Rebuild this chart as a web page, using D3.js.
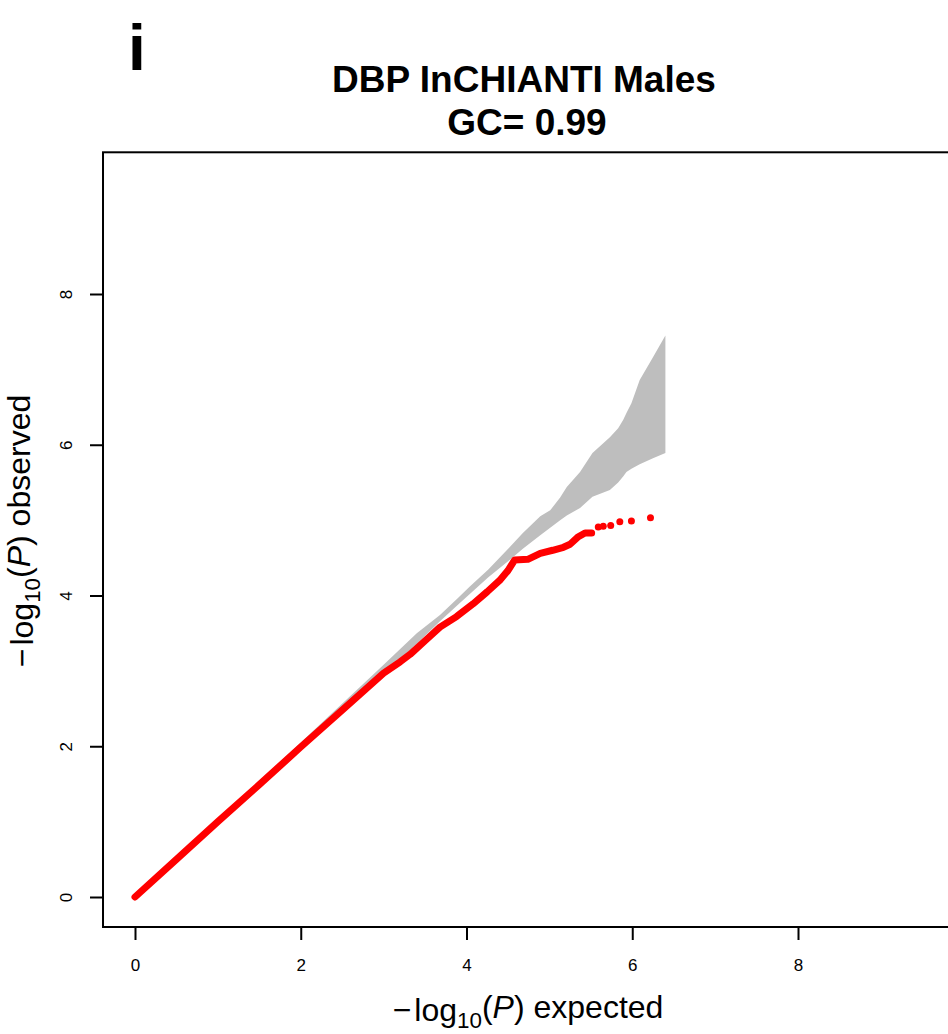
<!DOCTYPE html>
<html>
<head>
<meta charset="utf-8">
<script src="https://cdn.jsdelivr.net/npm/d3@7"></script>
<style>
  html, body { margin: 0; padding: 0; background: #fff; }
  svg { display: block; font-family: "Liberation Sans", Arial, sans-serif; }
</style>
</head>
<body>
<svg id="chart" width="948" height="1034"></svg>
<script>
// ---- data ----
const panelLetter = "i";
const titleLines = ["DBP InCHIANTI Males", "GC= 0.99"];
const xTicks = [0, 2, 4, 6, 8];
const yTicks = [0, 2, 4, 6, 8];
const xLimits = [-0.386, 10.04];
const yLimits = [-0.398, 9.88];

// confidence band: expected, lower, upper
const ciExpected = [0, 1, 2, 3, 3.4, 3.68, 3.9, 4.04, 4.26, 4.52, 4.68, 4.89, 5.01, 5.13, 5.21, 5.37, 5.52, 5.73, 5.83, 5.89, 5.93, 5.99, 6.09, 6.25, 6.4];
const ciLower    = [0, 0.99, 1.98, 2.96, 3.36, 3.66, 3.88, 4.02, 4.24, 4.47, 4.62, 4.8, 4.9, 5.0, 5.06, 5.16, 5.31, 5.4, 5.5, 5.58, 5.64, 5.68, 5.74, 5.82, 5.89];
const ciUpper    = [0, 1.02, 2.05, 3.08, 3.5, 3.74, 3.97, 4.12, 4.34, 4.64, 4.83, 5.05, 5.13, 5.3, 5.44, 5.64, 5.89, 6.1, 6.22, 6.33, 6.42, 6.55, 6.86, 7.16, 7.45];

// observed vs expected (dense part, drawn as a thick run of points)
const obsExpected = [0, 0.5, 1, 1.5, 2, 2.5, 3.0, 3.2, 3.32, 3.52, 3.68, 3.88, 4.08, 4.25, 4.40, 4.50, 4.58, 4.74, 4.89, 5.04, 5.17, 5.25, 5.35, 5.43, 5.51];
const obsObserved = [0, 0.5, 1, 1.49, 1.99, 2.48, 2.97, 3.12, 3.22, 3.42, 3.58, 3.72, 3.89, 4.05, 4.20, 4.33, 4.47, 4.48, 4.56, 4.60, 4.64, 4.68, 4.78, 4.83, 4.83];
// sparse tail points
const tailExpected = [5.59, 5.65, 5.74, 5.85, 5.99, 6.22];
const tailObserved = [4.91, 4.92, 4.93, 4.98, 4.99, 5.03];

// ---- drawing ----
const svg = d3.select("#chart");
const x = d3.scaleLinear().domain([0, 8]).range([135, 798]);
const y = d3.scaleLinear().domain([0, 8]).range([897, 294]);

const red = "#FF0000";
const grey = "#BEBEBE";

// band
const band = ciExpected.map((e, i) => ({e, lo: ciLower[i], hi: ciUpper[i]}));
svg.append("path")
  .datum(band)
  .attr("fill", grey)
  .attr("stroke", "none")
  .attr("d", d3.area().x(d => x(d.e)).y0(d => y(d.lo)).y1(d => y(d.hi)));

// observed dense line
const obs = obsExpected.map((e, i) => ({e, o: obsObserved[i]}));
svg.append("path")
  .datum(obs)
  .attr("fill", "none")
  .attr("stroke", red)
  .attr("stroke-width", 7)
  .attr("stroke-linejoin", "round")
  .attr("stroke-linecap", "round")
  .attr("d", d3.line().x(d => x(d.e)).y(d => y(d.o)));

const tail = tailExpected.map((e, i) => ({e, o: tailObserved[i]}));
svg.append("g").selectAll("circle")
  .data(tail)
  .join("circle")
  .attr("cx", d => x(d.e))
  .attr("cy", d => y(d.o))
  .attr("r", 3.5)
  .attr("fill", red);

// box
const bx0 = x(xLimits[0]), bx1 = x(xLimits[1]);
const by0 = y(yLimits[0]), by1 = y(yLimits[1]);
svg.append("rect")
  .attr("x", bx0).attr("y", by1)
  .attr("width", bx1 - bx0).attr("height", by0 - by1)
  .attr("fill", "none").attr("stroke", "#000").attr("stroke-width", 2);

// x axis
const gx = svg.append("g")
  .attr("transform", `translate(0,${by0})`)
  .call(d3.axisBottom(x).tickValues(xTicks).tickSize(13).tickPadding(19).tickFormat(d3.format("d")));
gx.select(".domain").remove();
gx.selectAll(".tick line").attr("stroke", "#000").attr("stroke-width", 2);
gx.selectAll(".tick text").attr("font-size", 17).attr("fill", "#000")
  .attr("font-family", "Liberation Sans, Arial, sans-serif");

// y axis
const gy = svg.append("g")
  .attr("transform", `translate(${bx0},0)`)
  .call(d3.axisLeft(y).tickValues(yTicks).tickSize(13).tickFormat(d3.format("d")));
gy.select(".domain").remove();
gy.selectAll(".tick line").attr("stroke", "#000").attr("stroke-width", 2);
gy.selectAll(".tick text")
  .attr("font-size", 17).attr("fill", "#000")
  .attr("font-family", "Liberation Sans, Arial, sans-serif")
  .attr("x", null).attr("dy", null)
  .attr("text-anchor", "middle")
  .attr("transform", "translate(-31,0) rotate(-90)");

// panel letter
svg.append("text")
  .attr("x", 128).attr("y", 70)
  .attr("font-size", 64).attr("font-weight", "bold")
  .text(panelLetter);

// title
svg.append("text")
  .attr("x", 524).attr("y", 92)
  .attr("text-anchor", "middle").attr("font-size", 37).attr("font-weight", "bold")
  .text(titleLines[0]);
svg.append("text")
  .attr("x", 527).attr("y", 135)
  .attr("text-anchor", "middle").attr("font-size", 37).attr("font-weight", "bold")
  .text(titleLines[1]);

// axis titles
function axisTitle(sel, word) {
  sel.append("tspan").text("\u2212");
  sel.append("tspan").attr("dx", 3).text("log");
  sel.append("tspan").attr("font-size", "0.7em").attr("dy", "0.3em").text("10");
  sel.append("tspan").attr("dy", "-0.3em").text("(");
  sel.append("tspan").attr("font-style", "italic").text("P");
  sel.append("tspan").text(") " + word);
}
const xt = svg.append("text")
  .attr("x", 528).attr("y", 1021)
  .attr("text-anchor", "middle").attr("font-size", 32);
axisTitle(xt, "expected");

const yt = svg.append("text")
  .attr("transform", "translate(33,531) rotate(-90)")
  .attr("text-anchor", "middle").attr("font-size", 32);
axisTitle(yt, "observed");
</script>
</body>
</html>
